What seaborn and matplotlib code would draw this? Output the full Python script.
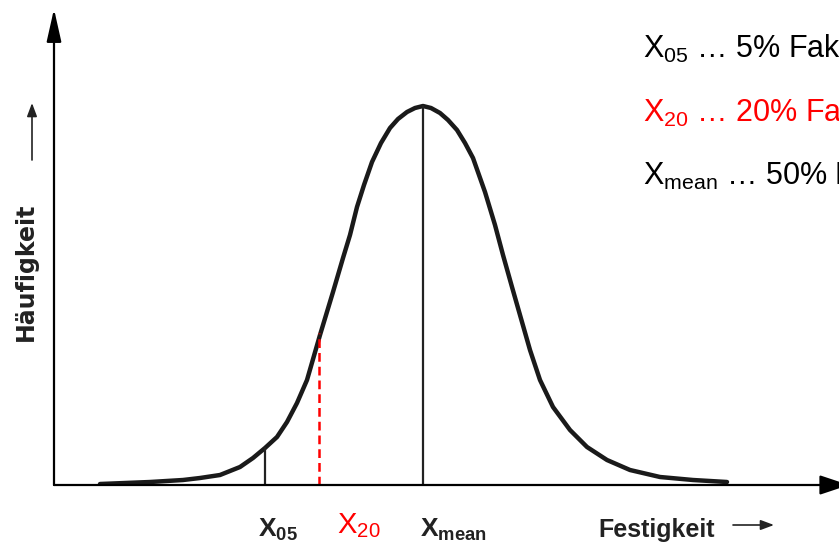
import pandas as pd
import seaborn as sns
import matplotlib.pyplot as plt

# curve (x: Festigkeit, y: Häufigkeit, arbitrary units)
festigkeit = [46, 96, 129, 146, 166, 186, 199, 211, 223, 233, 243, 253, 266, 279, 289, 296,
              303, 310, 318, 327, 336, 344, 353, 361, 369, 377, 386, 394, 403, 411, 419, 431,
              441, 449, 458, 466, 476, 486, 499, 516, 533, 553, 576, 606, 639, 673]
haeufigkeit = [1, 3, 5, 7, 10, 18, 27, 37, 48, 63, 82, 105, 150, 193, 227, 250,
               278, 300, 323, 342, 357, 366, 373, 377, 379, 377, 372, 365, 355, 342, 327, 293,
               260, 230, 198, 170, 135, 105, 78, 55, 38, 25, 15, 8, 5, 3]

# quantile markers
quant_names = ['05', '20', 'mean']
quant_x = [211, 265, 369]
quant_h = [37, 152, 379]
quant_colors = ['black', 'red', 'black']

legend_lines = [('05', '5% Faktile', 'black'),
                ('20', '20% Faktile', 'red'),
                ('mean', '50% Faktile', 'black')]

sns.set_style('white')
plt.rcParams['font.family'] = ['Liberation Sans', 'DejaVu Sans']
plt.rcParams['mathtext.fontset'] = 'custom'
plt.rcParams['mathtext.rm'] = 'Liberation Sans'
plt.rcParams['mathtext.bf'] = 'Liberation Sans:bold'

W, H = 839, 550
fig = plt.figure(figsize=(W / 100, H / 100), dpi=100)
ax = fig.add_axes([54 / W, 65 / H, 785 / W, 475 / H])
ax.set_xlim(0, 785)
ax.set_ylim(0, 475)
ax.axis('off')

df = pd.DataFrame({'Festigkeit': festigkeit, 'Häufigkeit': haeufigkeit})
sns.lineplot(data=df, x='Festigkeit', y='Häufigkeit', color='#1a1a1a', lw=3.2, ax=ax,
             solid_joinstyle='round', solid_capstyle='round')

for name, x, h, c in zip(quant_names, quant_x, quant_h, quant_colors):
    if c == 'red':
        ax.plot([x, x], [0, h], color='red', lw=1.8, ls=(0, (3.5, 2)))
    else:
        ax.plot([x, x], [0, h], color='#222222', lw=1.6)

# axes with arrow heads
ax.annotate('', xy=(0, 476), xytext=(0, 0), annotation_clip=False,
            arrowprops=dict(arrowstyle='-|>,head_length=2.0,head_width=0.45',
                            lw=1.6, color='black', shrinkA=0, shrinkB=0))
ax.annotate('', xy=(795, 0), xytext=(0, 0), annotation_clip=False,
            arrowprops=dict(arrowstyle='-|>,head_length=1.8,head_width=0.6',
                            lw=1.6, color='black', shrinkA=0, shrinkB=0))


def px(x, y):
    return x / W, 1 - y / H


scan = dict(family='Liberation Sans', weight='bold', color='#222222')

# bottom labels
fig.text(*px(258, 537), r'$\mathbf{X_{05}}$', fontsize=19, va='baseline', ha='left', **scan)
fig.text(*px(337, 533), r'$\mathrm{X_{20}}$', fontsize=21, va='baseline', ha='left', color='red')
fig.text(*px(420, 537), r'$\mathbf{X_{mean}}$', fontsize=19, va='baseline', ha='left', **scan)
fig.text(*px(598, 537), 'Festigkeit', fontsize=18, va='baseline', ha='left', **scan)
ax.annotate('', xy=px(774, 525), xytext=px(733, 525), xycoords='figure fraction',
            textcoords='figure fraction', annotation_clip=False,
            arrowprops=dict(arrowstyle='-|>,head_length=0.8,head_width=0.3',
                            lw=1.2, color='#222222', shrinkA=0, shrinkB=0))

# y label
fig.text(*px(26, 272), 'Häufigkeit', rotation=90, fontsize=17, ha='center', va='center',
         family='DejaVu Sans', weight='bold', color='#222222')
ax.annotate('', xy=px(32, 103), xytext=px(32, 160), xycoords='figure fraction',
            textcoords='figure fraction', annotation_clip=False,
            arrowprops=dict(arrowstyle='-|>,head_length=0.8,head_width=0.3',
                            lw=1.2, color='#222222', shrinkA=0, shrinkB=0))

# explanation text top right (cut at the right edge as in the original slide)
for (sub, desc, c), yb in zip(legend_lines, [58, 122, 185]):
    fig.text(*px(643, yb), r'$\mathrm{X_{%s}}$ … %s' % (sub, desc), fontsize=22,
             va='baseline', ha='left', color=c)

fig.savefig('out.png', dpi=100)
